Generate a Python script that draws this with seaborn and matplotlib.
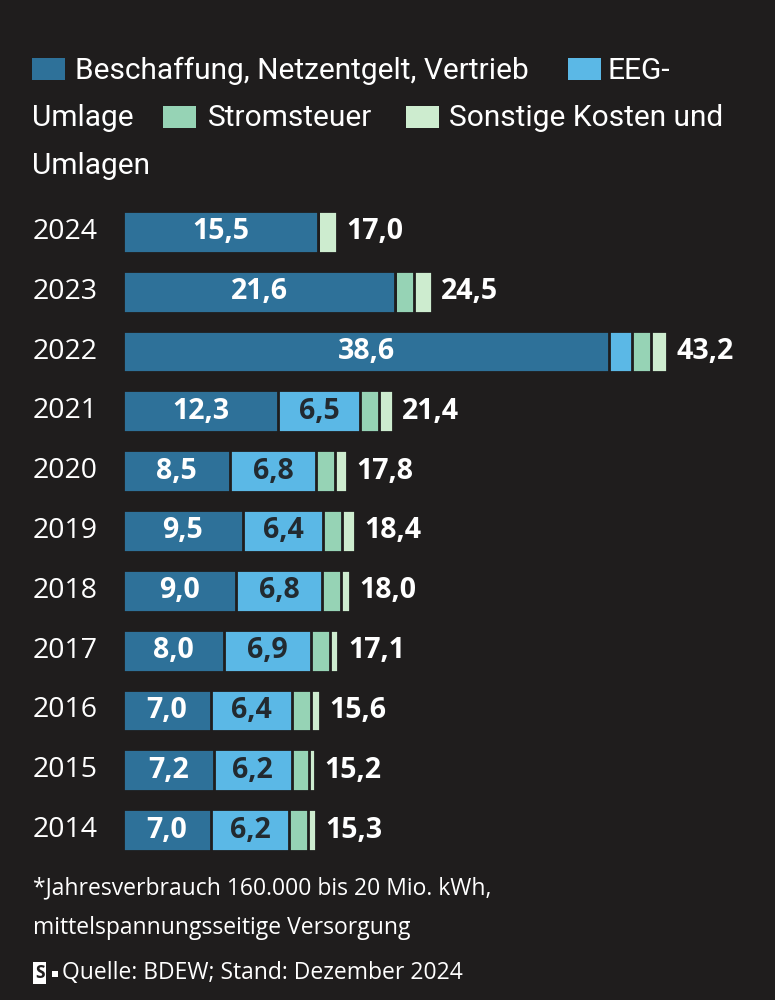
import matplotlib
matplotlib.use("Agg")
import matplotlib.pyplot as plt
from matplotlib.patches import Rectangle
import seaborn as sns
import numpy as np
import pandas as pd

years = ["2024", "2023", "2022", "2021", "2020", "2019", "2018", "2017", "2016", "2015", "2014"]
beschaffung = [15.5, 21.6, 38.6, 12.3, 8.5, 9.5, 9.0, 8.0, 7.0, 7.2, 7.0]
eeg = [0.0, 0.0, 1.8, 6.5, 6.8, 6.4, 6.8, 6.9, 6.4, 6.2, 6.2]
stromsteuer = [0.0, 1.5, 1.5, 1.5, 1.5, 1.5, 1.5, 1.5, 1.5, 1.4, 1.5]
sonstige = [1.5, 1.4, 1.3, 1.1, 1.0, 1.0, 0.7, 0.7, 0.7, 0.4, 0.6]
totals = ["17,0", "24,5", "43,2", "21,4", "17,8", "18,4", "18,0", "17,1", "15,6", "15,2", "15,3"]
series_names = ["Beschaffung, Netzentgelt, Vertrieb", "EEG-Umlage", "Stromsteuer", "Sonstige Kosten und Umlagen"]

BG = "#1f1d1d"
colors = ["#2e7199", "#5bb8e6", "#96d3b5", "#cdeccf"]

sns.set_theme(style="dark")
plt.rcParams["font.family"] = ["Open Sans", "DejaVu Sans"]

df = pd.DataFrame({"year": years, "b": beschaffung, "e": eeg, "s": stromsteuer, "o": sonstige})
df["c1"] = df["b"]
df["c2"] = df["c1"] + df["e"]
df["c3"] = df["c2"] + df["s"]
df["c4"] = df["c3"] + df["o"]

fig = plt.figure(figsize=(7.75, 10), dpi=100, facecolor=BG)
ax = fig.add_axes([123 / 775, 0.140, 652 / 775, 0.658])
ax.set_facecolor(BG)

for col, c in zip(["c4", "c3", "c2", "c1"], colors[::-1]):
    sns.barplot(data=df, x=col, y="year", order=years, orient="h", width=0.7,
                color=c, edgecolor=BG, linewidth=2, saturation=1, ax=ax)

ax.set_xlim(0, 652 / 12.6)
ax.set_ylim(10.5, -0.5)
ax.set_xlabel("")
ax.set_ylabel("")
ax.set_xticks([])
ax.set_yticks([])
for sp in ax.spines.values():
    sp.set_visible(False)

trans = matplotlib.transforms.blended_transform_factory(fig.transFigure, ax.transData)
for i, y in enumerate(years):
    ax.text(33 / 775, i, y, transform=trans, ha="left", va="center", color="white", fontsize=20.5)
    b = df["b"][i]; e = df["e"][i]
    ax.text(b / 2, i, f"{b:.1f}".replace(".", ","), ha="center", va="center",
            color="white", fontsize=20.5, fontweight="bold")
    if e >= 3:
        ax.text(b + e / 2, i, f"{e:.1f}".replace(".", ","), ha="center", va="center",
                color="#222a30", fontsize=20.5, fontweight="bold")
    ax.text(df["c4"][i] + 0.75, i, totals[i], ha="left", va="center",
            color="white", fontsize=20.5, fontweight="bold")

# legend (manual, wrapped like reference)
cond = ["Roboto", "DejaVu Sans"]
def sq(x, y, c):
    fig.patches.append(Rectangle((x / 775, 1 - (y + 22) / 1000), 33 / 775, 22 / 1000,
                                 transform=fig.transFigure, facecolor=c, edgecolor="none"))
def lt(x, y, s):
    fig.text(x / 775, 1 - y / 1000, s, ha="left", va="center", color="white",
             fontsize=21.5, family=cond)
sq(32, 58, colors[0]); lt(75, 71, "Beschaffung, Netzentgelt, Vertrieb")
sq(568, 58, colors[1]); lt(608, 71, "EEG-")
lt(32, 118, "Umlage")
sq(163, 106, colors[2]); lt(208, 118, "Stromsteuer")
sq(406, 106, colors[3]); lt(449, 118, "Sonstige Kosten und")
lt(32, 166, "Umlagen")

# footer
fs = 16.5
fig.text(33 / 775, 1 - 888 / 1000, "*Jahresverbrauch 160.000 bis 20 Mio. kWh,", color="white",
         fontsize=fs, ha="left", va="center")
fig.text(33 / 775, 1 - 928 / 1000, "mittelspannungsseitige Versorgung", color="white",
         fontsize=fs, ha="left", va="center")
fig.text(35 / 775, 1 - 973 / 1000, "S", color=BG, fontsize=12.5, fontweight="bold", ha="left", va="center",
         bbox=dict(boxstyle="square,pad=0.1", facecolor="white", edgecolor="none"))
fig.patches.append(Rectangle((52 / 775, 1 - 977 / 1000), 6 / 775, 6 / 1000,
                             transform=fig.transFigure, facecolor="white", edgecolor="none"))
fig.text(62 / 775, 1 - 973 / 1000, "Quelle: BDEW; Stand: Dezember 2024", color="white",
         fontsize=fs, ha="left", va="center")

fig.savefig("out.png", dpi=100, facecolor=BG)
